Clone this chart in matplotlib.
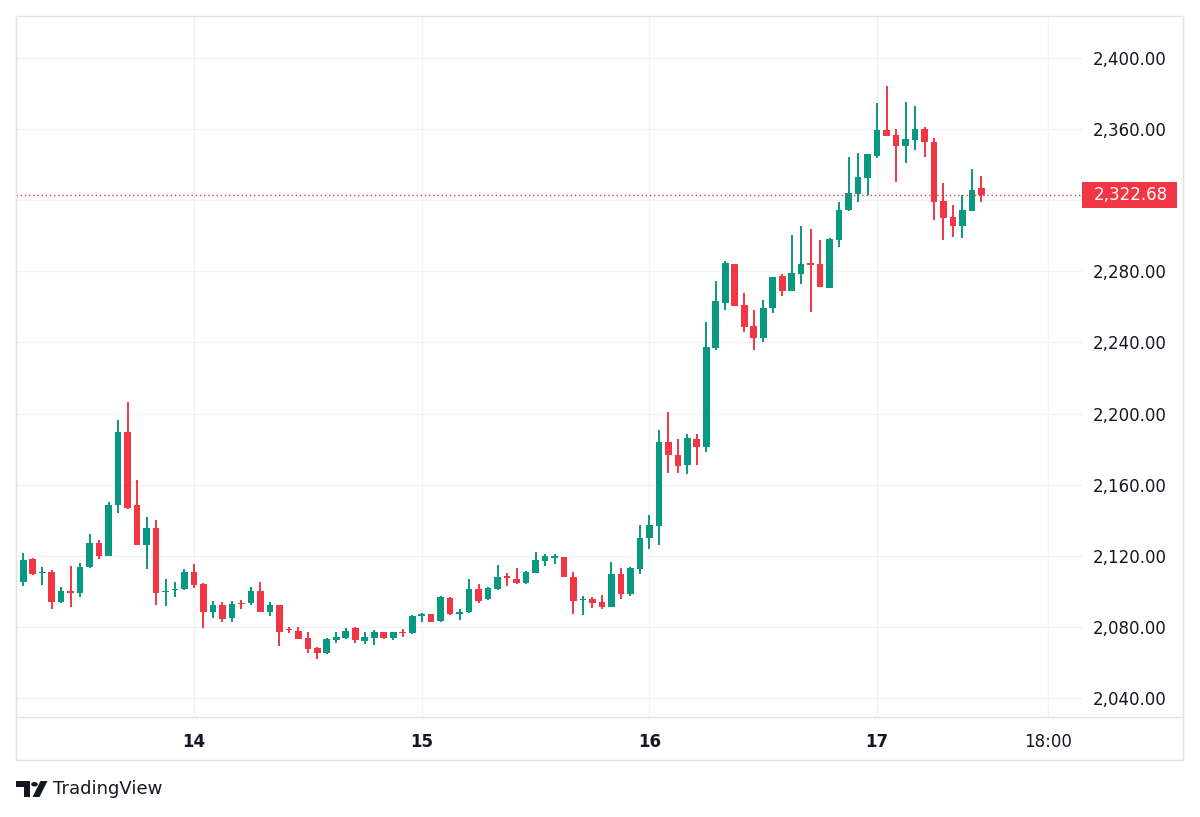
import numpy as np
import matplotlib
matplotlib.use("Agg")
import matplotlib.pyplot as plt
from matplotlib.patches import Rectangle, Polygon, Circle
from matplotlib.lines import Line2D
import matplotlib.transforms as mtransforms

# ---------------- data (hourly candles) ----------------
hours = list(range(-18, 84))  # hour offsets, 0 = day 14 00:00

opens = [2105, 2118, 2110.2, 2111, 2093.8, 2100.2, 2099, 2113.5, 2127, 2120.1,
         2148.6, 2189.8, 2148.6, 2125.9, 2135.8, 2099.5, 2100.6, 2101.1, 2110.7, 2104.1,
         2088.2, 2092.3, 2085.2, 2093.4, 2093.2, 2100.2, 2088.6, 2092.3, 2078.6, 2077.9,
         2073.6, 2067.9, 2065.5, 2072.6, 2074, 2079.2, 2072.1, 2074, 2076.9, 2074,
         2077, 2076.4, 2086.1, 2087, 2083.3, 2096.4, 2087.5, 2088.2, 2101.3, 2095.5,
         2101.1, 2108.2, 2107, 2104.5, 2110.5, 2117.3, 2118.8, 2119.1, 2108.3, 2095,
         2095.7, 2093.8, 2091, 2109.6, 2098.3, 2112.4, 2129.8, 2136.8, 2184.2, 2176.7,
         2171, 2185.5, 2181, 2237.1, 2262, 2284, 2261, 2249, 2242.7, 2259.2,
         2277.4, 2269.1, 2278.5, 2284.2, 2284, 2270.8, 2297.6, 2314.5, 2323.3, 2332.7,
         2345.1, 2359.5, 2356.6, 2350.5, 2353.9, 2360.1, 2352.9, 2319.6, 2310.4, 2305.7,
         2314.1, 2326.7]
highs = [2121.4, 2118.5, 2113.5, 2112, 2102.6, 2114.4, 2115.8, 2132, 2128.9, 2150.4,
         2196.4, 2206.3, 2162.6, 2142, 2140, 2106.9, 2105, 2112.6, 2115.2, 2104.5,
         2094.6, 2094.2, 2094.6, 2095, 2102.3, 2105, 2093.8, 2092.5, 2080.1, 2079.7,
         2077, 2068.9, 2073.5, 2077, 2079.2, 2080.1, 2077, 2078.3, 2077.2, 2077.3,
         2078.8, 2086.7, 2087.7, 2087.2, 2097.6, 2096.8, 2090, 2107, 2104.1, 2102.6,
         2114.8, 2110.5, 2113, 2111.6, 2122, 2121, 2121, 2119.2, 2111, 2097.6,
         2097, 2098, 2116.3, 2113, 2113.5, 2137.3, 2143, 2191, 2201, 2185.5,
         2188.5, 2188.5, 2251.7, 2274.6, 2285.8, 2284.2, 2267.6, 2258.3, 2264, 2277,
         2278.5, 2300.4, 2305.5, 2303.8, 2297.6, 2298.5, 2319.2, 2344.5, 2346.7, 2346,
         2374.5, 2384.4, 2360, 2375.1, 2373.2, 2361.4, 2355.2, 2329.5, 2317.3, 2323,
         2337.4, 2333.6]
lows = [2103, 2109, 2103.6, 2090, 2093.2, 2091.4, 2096.6, 2113, 2118, 2120,
        2143.9, 2146.5, 2125.9, 2112.4, 2092.3, 2091.8, 2097, 2100.8, 2101.7, 2079.2,
        2085.2, 2082.6, 2082.6, 2090, 2092.3, 2088.2, 2086.3, 2069.3, 2076.4, 2073,
        2065.5, 2062, 2065, 2070.7, 2073.2, 2070.7, 2070.2, 2069.8, 2073.2, 2072.6,
        2074.1, 2076, 2082.6, 2082.5, 2083, 2086.7, 2084, 2088, 2093.6, 2095,
        2101, 2103.2, 2104, 2104.3, 2110.4, 2114.4, 2115.2, 2108, 2087.3, 2086.7,
        2090.8, 2090, 2091, 2095.7, 2097.6, 2110, 2123.8, 2126, 2166.7, 2166.4,
        2166, 2171, 2178.2, 2235.8, 2258, 2260.3, 2245.7, 2235.8, 2240.4, 2256.4,
        2266.3, 2269, 2273, 2257, 2271, 2270.5, 2293.9, 2314, 2318.8, 2322.9,
        2343.6, 2356, 2330.4, 2341, 2348.2, 2344.5, 2308.9, 2297.6, 2299.1, 2299,
        2314, 2319.2]
closes = [2117.6, 2109.6, 2110.8, 2093.8, 2100, 2099, 2113.7, 2127, 2120.1, 2148.6,
          2189.8, 2146.9, 2125.9, 2135.8, 2098.9, 2100.4, 2101.4, 2110.7, 2103.6, 2088.6,
          2092.3, 2084.4, 2092.9, 2092.8, 2100.2, 2088.6, 2092.3, 2077.3, 2078.0, 2073.2,
          2067.4, 2065.1, 2073, 2074.5, 2077.9, 2072.6, 2074.5, 2077.3, 2074, 2076.9,
          2076.3, 2086.3, 2086.8, 2082.6, 2096.6, 2087.3, 2088.5, 2101.3, 2094.6, 2102.1,
          2107.9, 2107.6, 2104.5, 2110.7, 2117.6, 2119.8, 2119.3, 2108.3, 2094.7, 2095.8,
          2093.3, 2091, 2110, 2098.3, 2113, 2130.2, 2137.3, 2184.2, 2176.7, 2170.7,
          2186, 2181, 2237.6, 2263.3, 2284.5, 2260.5, 2248.5, 2242.7, 2259.6, 2276.6,
          2269.1, 2278.9, 2283.9, 2283.6, 2271.4, 2298.2, 2314.5, 2323.9, 2332.9, 2345.8,
          2359.5, 2356.1, 2350.5, 2354.2, 2360.1, 2352.6, 2319.2, 2309.8, 2305.7, 2314.5,
          2325.7, 2322.68]

day_ticks = [0, 24, 48, 72, 90]
day_labels = ["14", "15", "16", "17", "18:00"]
price_ticks = [2040, 2080, 2120, 2160, 2200, 2240, 2280, 2320, 2360, 2400]
hidden_price_labels = [2320]  # covered by the last-price tag
last_price = 2322.68

# ---------------- styling ----------------
GREEN = "#089981"
RED = "#f23645"
GRID = "#f2f2f2"
FRAME = "#e2e2e2"
TEXT = "#131722"

W, H = 1200, 817
fig = plt.figure(figsize=(W / 100, H / 100), dpi=100)
fig.patch.set_facecolor("white")


def fx(px):
    return px / W


def fy(py):
    return 1 - py / H


ax = fig.add_axes([fx(16), fy(717), (1082 - 16) / W, (717 - 16) / H])
ax.set_xlim(-18.76, 93.6)
ax.set_ylim(2029.3, 2423.6)
ax.set_axisbelow(True)
for s in ax.spines.values():
    s.set_visible(False)

o = np.array(opens)
c = np.array(closes)
hi = np.array(highs)
lo = np.array(lows)
x = np.array(hours)
up = c >= o
colors = np.where(up, GREEN, RED)

ax.vlines(x, lo, hi, colors=colors, linewidth=1.4, zorder=2)
bottoms = np.minimum(o, c)
heights = np.maximum(np.abs(c - o), 0.9)
ax.bar(x, heights, bottom=bottoms, width=0.7, color=colors, linewidth=0, zorder=3)

# grid / ticks
ax.set_yticks(price_ticks)
ax.set_yticklabels(["" if v in hidden_price_labels else f"{v:,.2f}" for v in price_ticks])
ax.yaxis.tick_right()
ax.tick_params(axis="y", length=0, pad=8, labelsize=12, labelcolor=TEXT)
ax.set_xticks(day_ticks)
ax.set_xticklabels(day_labels)
ax.tick_params(axis="x", length=0, pad=11.5, labelsize=12, labelcolor=TEXT)
for lbl in ax.get_xticklabels():
    if ":" not in lbl.get_text():
        lbl.set_fontweight("bold")
ax.grid(True, color=GRID, linewidth=1)

# last price line and label
ax.axhline(last_price, color=RED, linewidth=1, linestyle=(0, (1, 2)), zorder=4)
trans = mtransforms.blended_transform_factory(fig.transFigure, ax.transData)
fig.add_artist(Rectangle((fx(1082), last_price - 7.3), (1177 - 1082) / W, 14.6,
                         transform=trans, facecolor=RED, edgecolor="none", clip_on=False,
                         zorder=5))
fig.text(fx(1131), last_price, f"{last_price:,.2f}", transform=trans, ha="center",
         va="center", color="white", fontsize=12, zorder=6)

# frame
fig.add_artist(Rectangle((fx(16), fy(760)), (1183 - 16) / W, (760 - 16) / H,
                         transform=fig.transFigure, fill=False, edgecolor=FRAME, linewidth=1))
fig.add_artist(Line2D([fx(16), fx(1183)], [fy(717), fy(717)], transform=fig.transFigure,
                      color=FRAME, linewidth=1))

# TradingView logo
logo_color = "#131722"
fig.add_artist(Polygon([(fx(16), fy(781)), (fx(30), fy(781)), (fx(30), fy(797)),
                        (fx(23.5), fy(797)), (fx(23.5), fy(787)), (fx(16), fy(787))],
                       closed=True, transform=fig.transFigure, facecolor=logo_color,
                       edgecolor="none"))
fig.add_artist(Circle((fx(34.5), fy(784.3)), 3.3 / W, transform=fig.transFigure,
                      facecolor=logo_color, edgecolor="none"))
fig.add_artist(Polygon([(fx(40.5), fy(781)), (fx(47.5), fy(781)), (fx(39.5), fy(797)),
                        (fx(32.5), fy(797))], closed=True, transform=fig.transFigure,
                       facecolor=logo_color, edgecolor="none"))
fig.text(fx(53), fy(789.5), "TradingView", ha="left", va="center", fontsize=13,
         color=TEXT)

fig.savefig("out.png", dpi=100)
